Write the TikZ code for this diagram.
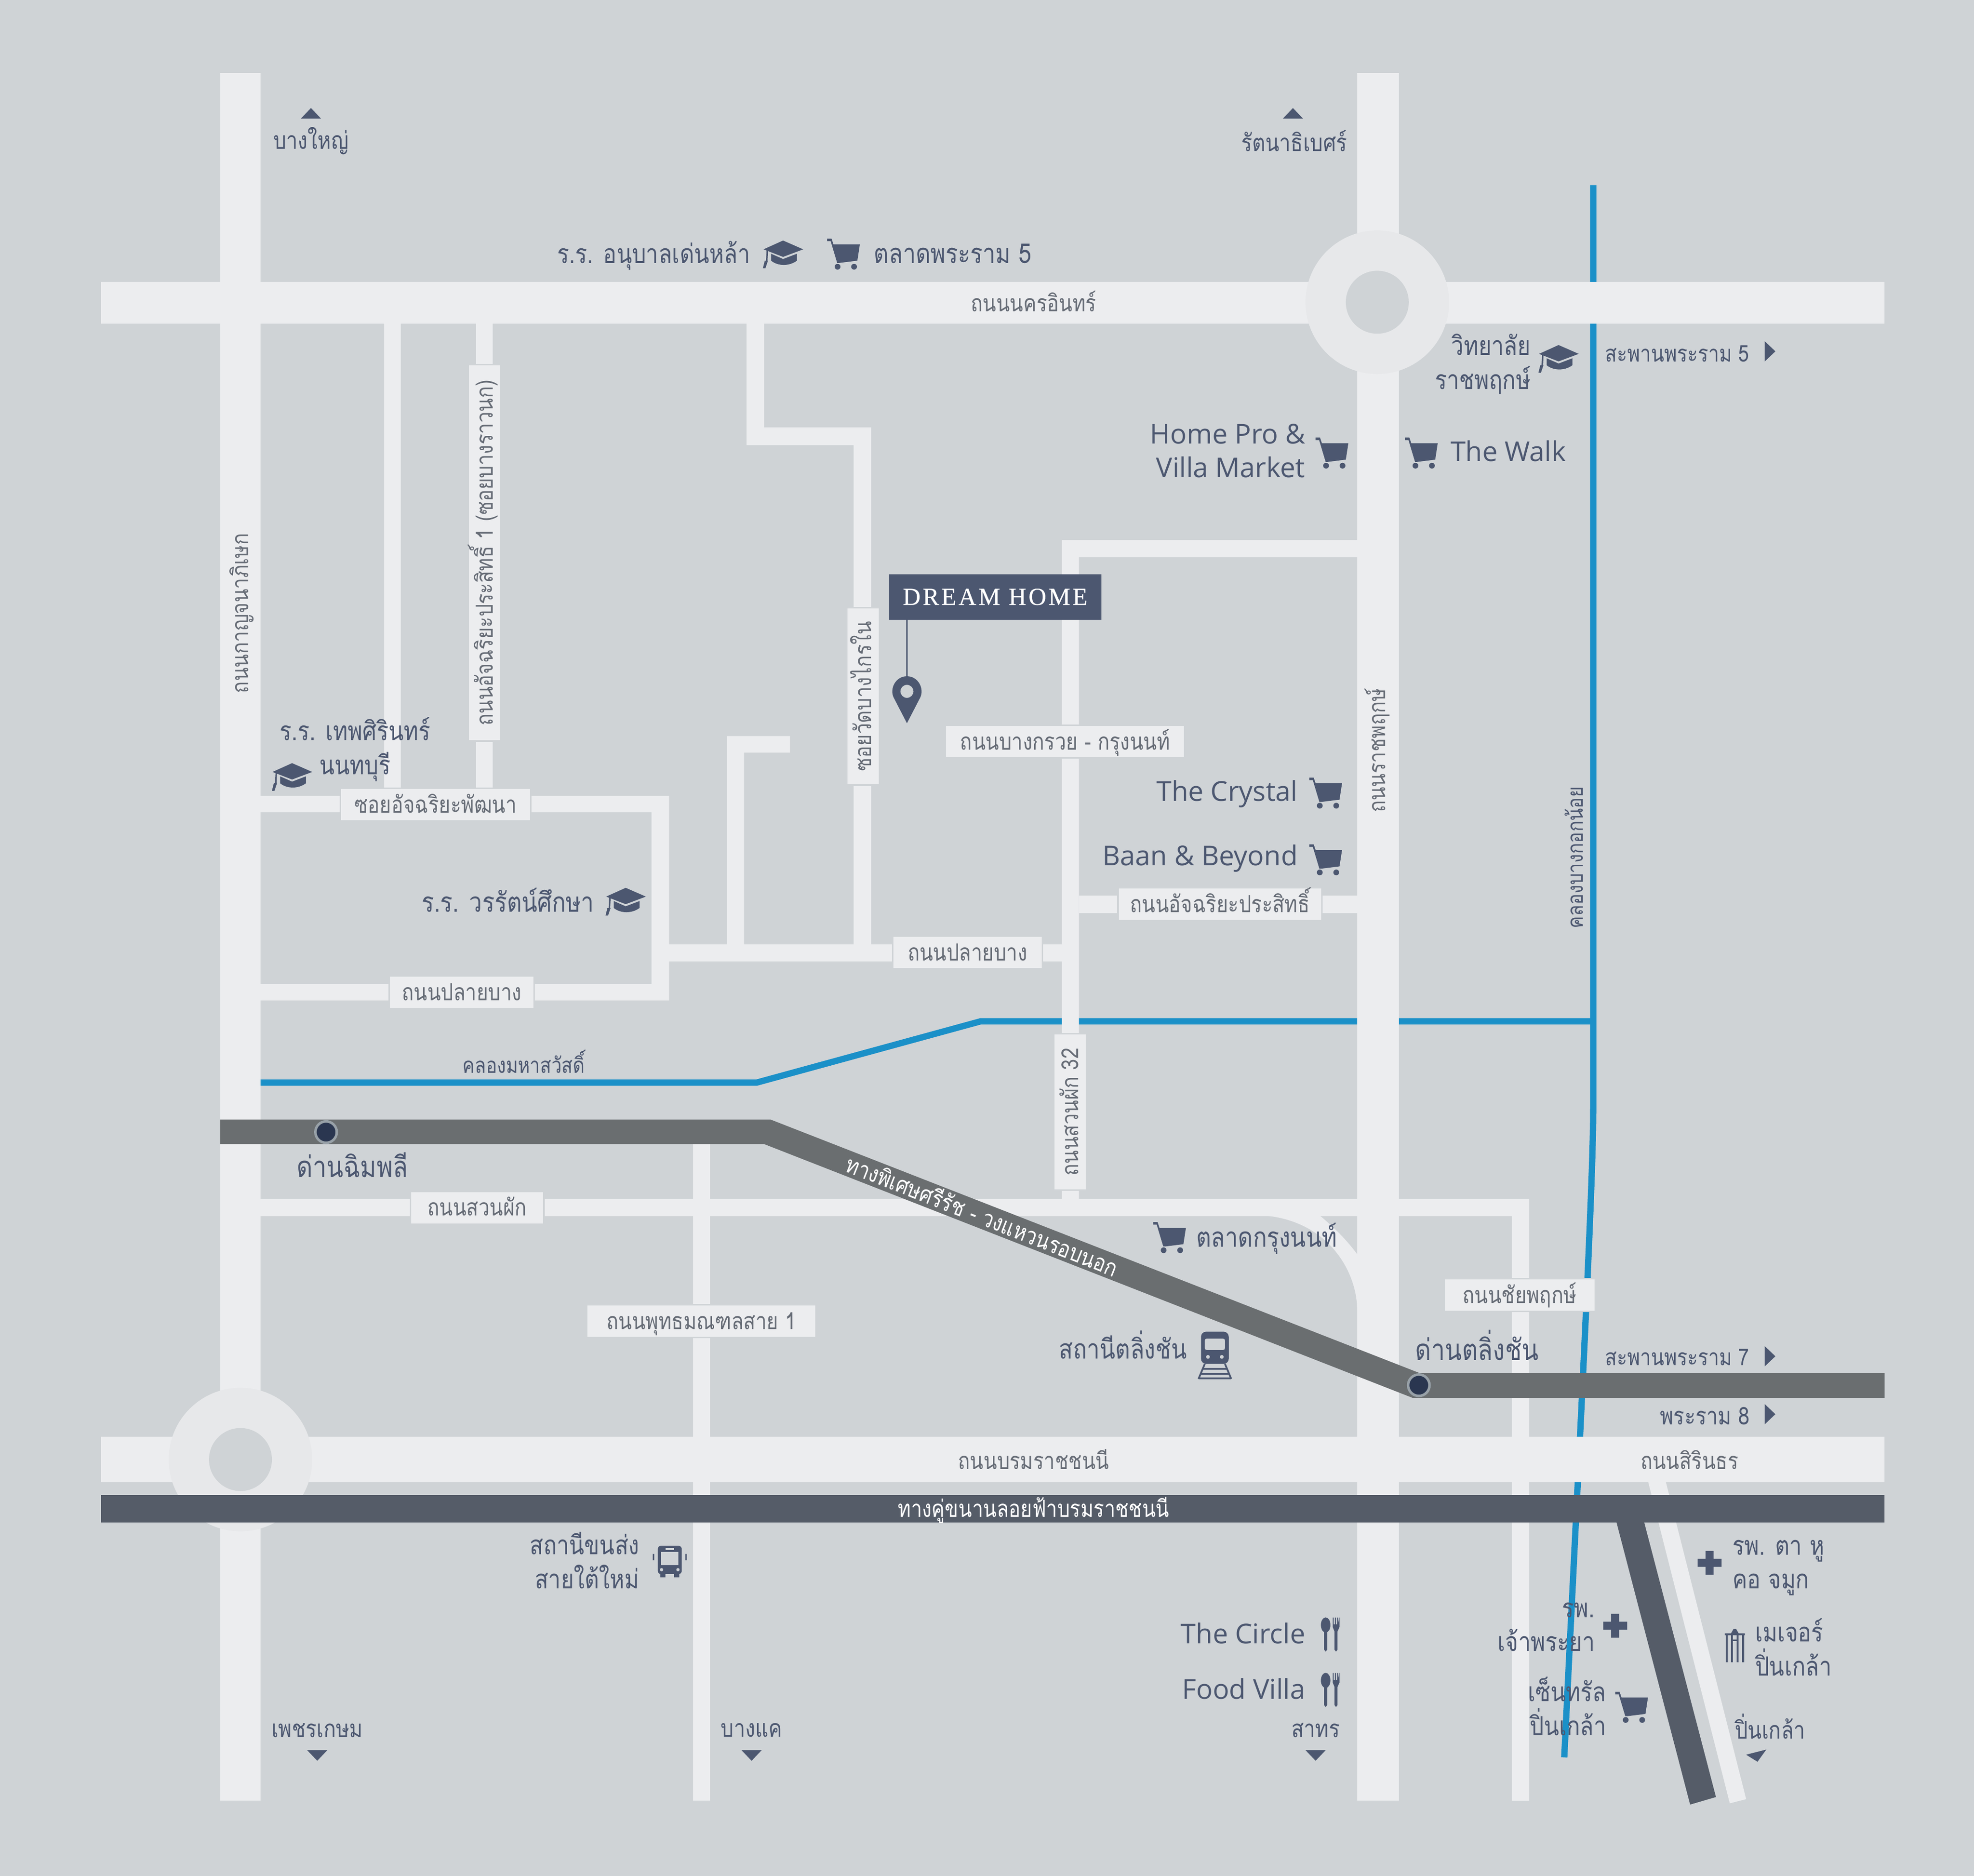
\documentclass[tikz,border=0pt]{standalone}
\usepackage{fontspec}
\newfontfamily\thaifont[Script=Thai,FakeStretch=0.84]{Loma}
\newfontfamily\latinfont{Open Sans}
\newfontfamily\homefont[LetterSpace=9,FakeBold=0.4]{Liberation Serif}
\definecolor{mapbg}{HTML}{CFD3D6}
\definecolor{roadc}{HTML}{ECEDEF}
\definecolor{ringc}{HTML}{E7E8EA}
\definecolor{waterc}{HTML}{1B90C8}
\definecolor{tollc}{HTML}{6A6E70}
\definecolor{elevc}{HTML}{555C68}
\definecolor{inkc}{HTML}{4C5770}
\definecolor{greyc}{HTML}{666C76}
\definecolor{dotc}{HTML}{2A3650}
\definecolor{dotring}{HTML}{98A1A8}
\tikzset{
    road/.style={fill=roadc},
    water/.style={draw=waterc, line width=5pt, line join=miter},
    place/.style={text=inkc, inner sep=0pt, font=\thaifont\fontsize{21}{27}\selectfont, align=right},
    placesmall/.style={place, font=\thaifont\fontsize{19.3}{25}\selectfont},
    placebridge/.style={place, font=\thaifont\fontsize{18.3}{25}\selectfont},
    placetoll/.style={place, font=\thaifont\fontsize{23.3}{27}\selectfont},
    placecanal/.style={place, font=\thaifont\fontsize{17.3}{22}\selectfont},
    placewide/.style={place, font=\thaifont\fontsize{21.7}{27}\selectfont},
    brand/.style={text=inkc, inner sep=0pt, font=\latinfont\fontsize{21.7}{27}\selectfont, align=right},
    leftend/.style={anchor=mid west, yshift=-5pt},
    rightend/.style={anchor=mid east, yshift=-5pt},
    roadname/.style={text=greyc, inner sep=0pt, font=\thaifont\fontsize{18.7}{24}\selectfont, text height=16pt, text depth=3pt},
    roadlabel/.style={roadname, fill=roadc, draw=mapbg, line width=1.2pt},
    whitename/.style={roadname, text=white},
    carticon/.pic={
        \fill[inkc] (-13,-12.5) -- (-9.5,-12.5) -- (-8,-8) -- (13,-8) -- (11,5) -- (-3.5,6.8) -- (-5,6.8) -- (-10.2,-10.5) -- (-13,-10.5) -- cycle;
        \fill[inkc] (-4.7,9.8) circle (2.3) (8.4,9.8) circle (2.3);
    },
    capicon/.pic={
        \fill[inkc] (0,-11) -- (16,-4) -- (0,2) -- (-15.5,-4) -- cycle;
        \fill[inkc] (-9.5,-0.5) -- (0,3.7) -- (11,-0.5) -- (11,5) .. controls (5,9.5) and (-4,9.5) .. (-9.5,5) -- cycle;
        \draw[inkc, line width=1.2pt] (-12.5,-3.5) -- (-13,6);
        \fill[inkc] (-12,5) -- (-14.5,5) -- (-16,11) -- (-14,11) -- cycle;
    },
    cutleryicon/.pic={
        \fill[inkc] (-4,-7.6) ellipse (3.8 and 6);
        \fill[inkc] (-5.2,-3) -- (-2.8,-3) -- (-2.8,12) -- (-4,13.5) -- (-5.2,12) -- cycle;
        \fill[inkc] (1.6,-13.5) -- (2.4,-13.5) -- (2.4,-8) -- (3.3,-8) -- (3.3,-13.5) -- (4.1,-13.5) -- (4.1,-8) -- (5,-8) -- (5,-13.5) -- (5.8,-13.5) -- (5.8,-8) -- (6.6,-13.5) -- (7,-13.5) -- (7,-6) -- (5.4,-2.5) -- (5.4,12) -- (4.2,13.5) -- (3,12) -- (3,-2.5) -- (1.6,-6) -- cycle;
    },
    crossicon/.pic={
        \fill[inkc] (-3.2,-9.5) rectangle (3.2,9.5) (-9.5,-3.2) rectangle (9.5,3.2);
    },
    templeicon/.pic={
        \fill[inkc] (-1,-13.5) -- (1,-13.5) -- (3,-10) -- (8,-10) -- (8,-8.5) -- (-8,-8.5) -- (-8,-10) -- (-3,-10) -- cycle;
        \foreach \cx in {-6.5,-2.2,2.2,6.5} {
            \fill[inkc] (\cx-0.8,-8.5) rectangle (\cx+0.8,13);
        }
        \fill[inkc] (-2.2,-5) rectangle (2.2,-3.8);
    },
    busicon/.pic={
        \fill[inkc, rounded corners=2.5pt] (-9.5,-12.5) rectangle (9.5,10);
        \fill[mapbg] (-7,-7.5) rectangle (7,3);
        \fill[mapbg] (-3.5,-10.5) rectangle (3.5,-9.2);
        \fill[mapbg] (-6.5,6.5) circle (1.3) (6.5,6.5) circle (1.3);
        \fill[inkc] (-7.5,10) rectangle (-3.5,12.5) (3.5,10) rectangle (7.5,12.5);
        \fill[inkc] (-13.5,-6) rectangle (-12.3,-1) (12.3,-6) rectangle (13.5,-1);
    },
    trainicon/.pic={
        \fill[inkc, rounded corners=4pt] (-11,-18.5) rectangle (11,7);
        \fill[mapbg, rounded corners=1.5pt] (-8,-13) rectangle (8,-4);
        \fill[mapbg] (-5.5,1.5) circle (1.5) (5.5,1.5) circle (1.5);
        \draw[inkc, line width=1.4pt] (-8,7) -- (-13,19) (8,7) -- (13,19) (-10,11) -- (10,11) (-11.5,15) -- (11.5,15) (-13,18.5) -- (13,18.5);
    },
    pinicon/.pic={
        \fill[inkc, even odd rule] (0,25.3) -- (-10.5,5) .. controls (-14,-2) and (-9,-12) .. (0,-12) .. controls (9,-12) and (14,-2) .. (10.5,5) -- cycle (0,0) circle (5.2);
    },
    tripicon/.pic={
        \fill[inkc] (-8,4.2) -- (0,-4.2) -- (8,4.2) -- cycle;
    },
}

\begin{document}
\begin{tikzpicture}[x=1pt, y=-1pt]
    \useasboundingbox (0,0) rectangle (1568,1489.7);
    \fill[mapbg] (0,0) rectangle (1568,1489.7);

    % canals
    \draw[water] (207,859.7) -- (601,859.7) -- (779,811) -- (1265.5,811);
    \draw[water] (1265.5,147) -- (1265.5,880) .. controls (1265.5,940) and (1256,1120) .. (1242.5,1395.5);

    % main roads
    \fill[road] (175,58) rectangle (207,1430);
    \fill[road] (1078,58) rectangle (1111,1430);
    \fill[road] (80,224) rectangle (1497,257);
    \fill[road] (80,1141) rectangle (1497,1177);
    \fill[road] (305,257) rectangle (318.5,632);
    \fill[road] (378,257) rectangle (391.5,632);
    \fill[road] (593,257) -- (607,257) -- (607,339.5) -- (692,339.5) -- (692,750) -- (678,750) -- (678,353.5) -- (593,353.5) -- cycle;
    \fill[road] (843.5,429) -- (1078,429) -- (1078,442.5) -- (857,442.5) -- (857,952) -- (843.5,952) -- cycle;
    \fill[road] (857,711) rectangle (1078,725);
    \fill[road] (207,632) -- (531.5,632) -- (531.5,794.5) -- (207,794.5) -- (207,781.5) -- (517.5,781.5) -- (517.5,645) -- (207,645) -- cycle;
    \fill[road] (531.5,750) rectangle (843.5,763.5);
    \fill[road] (577.5,584.5) -- (627.5,584.5) -- (627.5,597.7) -- (591,597.7) -- (591,750) -- (577.5,750) -- cycle;
    \fill[road] (207,952) -- (1214.7,952) -- (1214.7,1430) -- (1201,1430) -- (1201,965.7) -- (207,965.7) -- cycle;
    \fill[road] (550.5,908) rectangle (564,1430);
    \fill[road] (1001,965) .. controls (1055,968) and (1078,1010) .. (1078,1040) -- (1078,996) .. controls (1070,985) and (1060,975) .. (1048,965) -- cycle;
    \fill[road] (1309,1176) -- (1323,1176) -- (1387,1428.7) -- (1374,1432) -- cycle;

    % roundabouts
    \fill[ringc] (1094,240) circle (57);
    \fill[mapbg] (1094,240) circle (25);
    \fill[ringc] (191,1159) circle (57);
    \fill[mapbg] (191,1159) circle (25);

    % expressways
    \fill[tollc] (175,889) -- (612,889) -- (1128,1090.5) -- (1497,1090.5) -- (1497,1110) -- (1122,1110) -- (607,908.5) -- (175,908.5) -- cycle;
    \fill[elevc] (80,1187) rectangle (1497,1209);
    \fill[elevc] (1283,1205) -- (1305,1205) -- (1363,1427) -- (1342.5,1433) -- cycle;
    \fill[dotc, draw=dotring, line width=2pt] (259,899) circle (8.5);
    \fill[dotc, draw=dotring, line width=2pt] (1127,1100) circle (8.5);

    % road names on the white roads
    \node[roadname] (nakorn) at (821,241) {ถนนนครอินทร์};
    \node[roadname] (borom) at (821,1160) {ถนนบรมราชชนนี};
    \node[roadname] (sirin) at (1342,1160) {ถนนสิรินธร};
    \node[roadname, rotate=90] (kanchana) at (191,487) {ถนนกาญจนาภิเษก};
    \node[roadname, rotate=90] (ratchaphruek) at (1094,596) {ถนนราชพฤกษ์};
    \node[whitename] (elevated) at (821,1198) {ทางคู่ขนานลอยฟ้าบรมราชชนนี};
    \node[whitename, rotate=-21.5] (sirirat) at (780,966) {ทางพิเศษศรีรัช - วงแหวนรอบนอก};

    % boxed road names
    \node[roadlabel, rotate=90, minimum width=299pt, minimum height=26pt] (prasit) at (385,439) {ถนนอัจฉริยะประสิทธิ์ 1 (ซอยบางราวนก)};
    \node[roadlabel, rotate=90, minimum width=141pt, minimum height=26pt] (bangkrai) at (685.5,553) {ซอยวัดบางไกรใน};
    \node[roadlabel, minimum width=190pt, minimum height=26pt] (bangkruai) at (846,589) {ถนนบางกรวย - กรุงนนท์};
    \node[roadlabel, minimum width=162pt, minimum height=26pt] (prasit2) at (969,718) {ถนนอัจฉริยะประสิทธิ์};
    \node[roadlabel, minimum width=151pt, minimum height=26pt] (pattana) at (346,639) {ซอยอัจฉริยะพัฒนา};
    \node[roadlabel, minimum width=119pt, minimum height=26pt] (plaibang2) at (768.5,756.5) {ถนนปลายบาง};
    \node[roadlabel, minimum width=115pt, minimum height=26pt] (plaibang1) at (366.7,788) {ถนนปลายบาง};
    \node[roadlabel, rotate=90, minimum width=124pt, minimum height=26pt] (suanphak32) at (850,883) {ถนนสวนผัก 32};
    \node[roadlabel, minimum width=106pt, minimum height=26pt] (suanphak) at (379,959) {ถนนสวนผัก};
    \node[roadlabel, minimum width=182pt, minimum height=26pt] (phutta) at (557,1049) {ถนนพุทธมณฑลสาย 1};
    \node[roadlabel, minimum width=120pt, minimum height=26pt] (chaiyaphruek) at (1207,1028.5) {ถนนชัยพฤกษ์};

    % canal names
    \node[placecanal] (mahasawat) at (416,843) {คลองมหาสวัสดิ์};
    \node[placecanal, rotate=90] (bangkoknoi) at (1250,681) {คลองบางกอกน้อย};

    % directions
    \node[placesmall] (bangyai) at (247,112) {บางใหญ่};
    \node[placesmall] (rattana) at (1028,112) {รัตนาธิเบศร์};
    \node[placebridge, leftend] (rama5) at (1275,280) {สะพานพระราม 5};
    \node[placebridge, leftend] (rama7) at (1275,1077) {สะพานพระราม 7};
    \node[placesmall, rightend] (rama8) at (1390,1124) {พระราม 8};
    \node[placesmall] (phetkasem) at (252,1374) {เพชรเกษม};
    \node[placesmall] (bangkhae) at (597,1374) {บางแค};
    \node[placesmall] (sathon) at (1045,1374) {สาทร};
    \node[placesmall] (pinklao) at (1406,1371) {ปิ่นเกล้า};
    \foreach \tx/\ty in {247/90,1027/90} {
        \pic at (\tx,\ty) {tripicon};
    }
    \foreach \tx/\ty in {252/1394,597/1394,1045/1394} {
        \pic[rotate=180] at (\tx,\ty) {tripicon};
    }
    \foreach \tx/\ty in {1406/279,1406/1077,1406/1123} {
        \pic[rotate=-90] at (\tx,\ty) {tripicon};
    }
    \fill[inkc] (1387,1393.4) -- (1403,1389.3) -- (1396,1399) -- cycle;

    % places
    \node[place, rightend] (anuban) at (596,202) {ร.ร. อนุบาลเด่นหล้า};
    \node[placewide, leftend] (talad5) at (694,202) {ตลาดพระราม 5};
    \node[place, anchor=east] (college) at (1216,289) {วิทยาลัย\\ราชพฤกษ์};
    \node[brand, anchor=east] (homepro) at (1037,358) {Home Pro \&\\Villa Market};
    \node[brand, leftend] (walk) at (1152,359) {The Walk};
    \node[brand, rightend] (crystal) at (1031,629) {The Crystal};
    \node[brand, rightend] (beyond) at (1031,680) {Baan \& Beyond};
    \node[place, align=center] (thepsirin) at (282,595) {ร.ร. เทพศิรินทร์\\นนทบุรี};
    \node[placewide, rightend] (worarat) at (472,717) {ร.ร. วรรัตน์ศึกษา};
    \node[placetoll] (chimphli) at (280,925) {ด่านฉิมพลี};
    \node[placewide, leftend] (taladkrung) at (950,983) {ตลาดกรุงนนท์};
    \node[placetoll, leftend] (tolltaling) at (1124,1073) {ด่านตลิ่งชัน};
    \node[placewide, rightend] (stattaling) at (943,1072) {สถานีตลิ่งชัน};
    \node[place, anchor=east] (southbus) at (508,1239) {สถานีขนส่ง\\สายใต้ใหม่};
    \node[brand, rightend] (circle) at (1037,1298) {The Circle};
    \node[brand, rightend] (foodvilla) at (1037,1342) {Food Villa};
    \node[place, anchor=west, align=left] (enthos) at (1376,1245) {รพ. ตา หู\\คอ จมูก};
    \node[place, anchor=east] (chaophraya) at (1267,1292) {รพ.\\เจ้าพระยา};
    \node[place, anchor=west, align=left] (major) at (1394,1308) {เมเจอร์\\ปิ่นเกล้า};
    \node[place, anchor=east] (central) at (1276,1355) {เซ็นทรัล\\ปิ่นเกล้า};

    % icons
    \foreach \ix/\iy in {670/202,1058/360,1129/360,1053/630,1053/683,929/983,1296/1356} {
        \pic at (\ix,\iy) {carticon};
    }
    \foreach \ix/\iy in {622/202,1238/285,232/617,497/716} {
        \pic at (\ix,\iy) {capicon};
    }
    \foreach \iy in {1298,1342} {
        \pic at (1057,\iy) {cutleryicon};
    }
    \pic at (1358,1241) {crossicon};
    \pic at (1283,1291) {crossicon};
    \pic at (1378,1307) {templeicon};
    \pic at (532,1240) {busicon};
    \pic at (965,1076) {trainicon};

    % dream home
    \node[fill=inkc, text=white, minimum width=168.5pt, minimum height=36pt, inner sep=0pt, font=\homefont\fontsize{19.5}{22}\selectfont] (home) at (790.5,474) {DREAM HOME};
    \coordinate (pinhead) at (720.4,549);
    \coordinate (pintop) at (720.4,537);
    \draw[inkc, line width=1pt] (pintop |- home.south) -- (pintop);
    \pic at (pinhead) {pinicon};
\end{tikzpicture}
\end{document}
